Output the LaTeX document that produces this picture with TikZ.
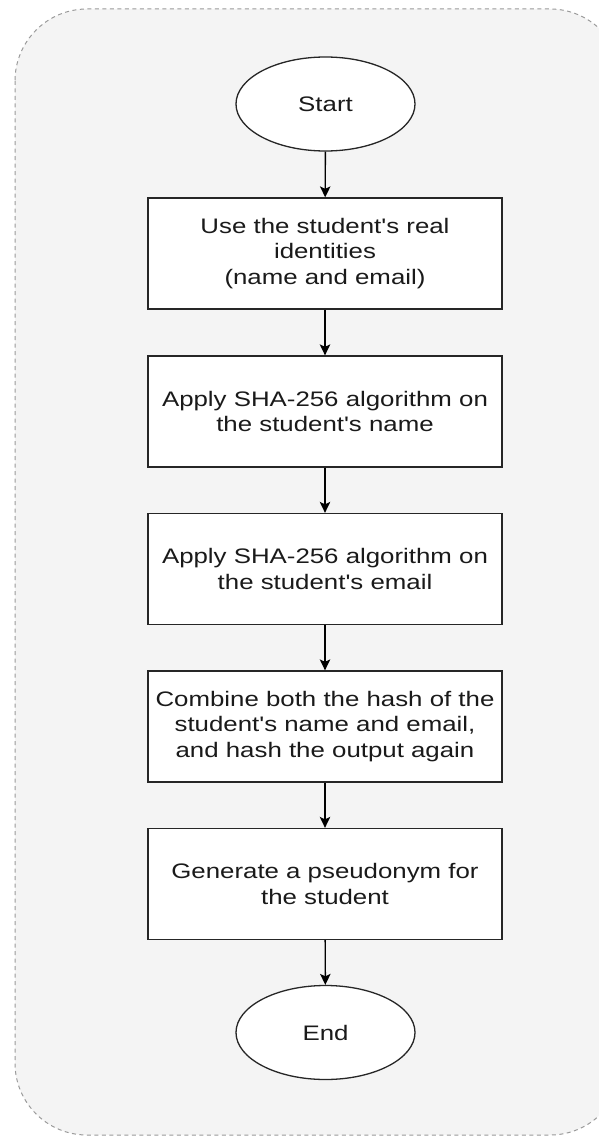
\documentclass[tikz,border=0pt]{standalone}
\usepackage{fontspec}
\setmainfont{Liberation Sans}[FakeStretch=1.23, Ligatures=TeXOff]
\usetikzlibrary{shapes.geometric,arrows.meta}

\definecolor{panelfill}{HTML}{F4F4F4}
\definecolor{panelline}{HTML}{9A9A9A}
\definecolor{inkline}{HTML}{262626}
\definecolor{inktext}{HTML}{1A1A1A}

\tikzset{
  stepbox/.style={draw=inkline, fill=white, line width=1.3pt,
    minimum width=354pt, minimum height=111pt, inner sep=0pt,
    align=center, text=inktext, font=\fontsize{21}{25.5}\selectfont},
  terminal/.style={ellipse, draw=inkline, fill=white, line width=1.3pt,
    minimum width=179pt, minimum height=94pt, inner sep=0pt,
    text=inktext, font=\fontsize{21}{25.5}\selectfont},
  flow/.style={draw=black, line width=1.4pt,
    -{Stealth[length=11pt,width=10.5pt,inset=2.5pt]}},
}

\begin{document}
\begin{tikzpicture}[x=1pt,y=-1pt]
  \useasboundingbox (0,0) rectangle (598,1137);

  % dashed panel behind the flow
  \draw[panelline, fill=panelfill, line width=1pt, dash pattern=on 4pt off 3.5pt,
        rounded corners=72pt] (15,9) rectangle (622,1135);

  \node[terminal] (start) at (325.5,104) {Start};
  \node[stepbox] (s1) at (325,253.5) {Use the student's real\\identities\\(name and email)};
  \node[stepbox] (s2) at (325,411.5) {Apply SHA-256 algorithm on\\the student's name};
  \node[stepbox] (s3) at (325,569) {Apply SHA-256 algorithm on\\the student's email};
  \node[stepbox] (s4) at (325,726.5) {Combine both the hash of the\\student's name and email,\\and hash the output again};
  \node[stepbox] (s5) at (325,884) {Generate a pseudonym for\\the student};
  \node[terminal] (end) at (325.5,1032.5) {End};

  \draw[flow] (start) -- (s1);
  \draw[flow] (s1) -- (s2);
  \draw[flow] (s2) -- (s3);
  \draw[flow] (s3) -- (s4);
  \draw[flow] (s4) -- (s5);
  \draw[flow] (s5) -- (end);
\end{tikzpicture}
\end{document}
